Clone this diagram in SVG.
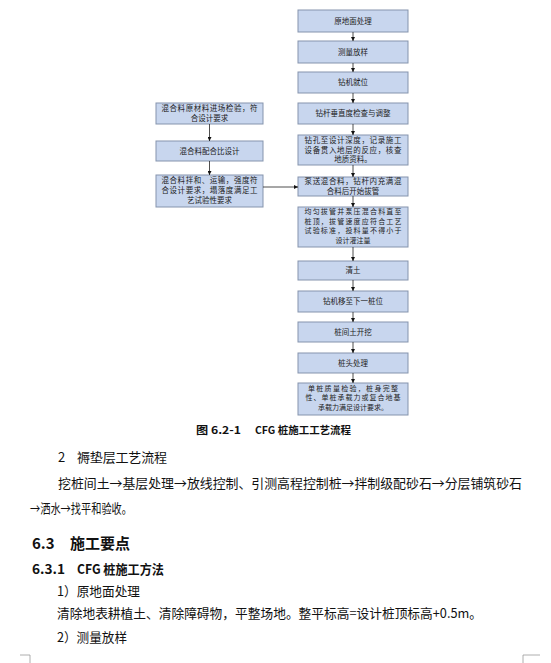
<svg xmlns="http://www.w3.org/2000/svg" width="551" height="663" viewBox="0 0 551 663">
<defs>
<marker id="ah" viewBox="0 0 10 10" refX="10" refY="5" markerWidth="4" markerHeight="4" orient="auto" markerUnits="userSpaceOnUse"><path d="M0,0 L10,5 L0,10 z" fill="#111"/></marker>
<style>
.box{fill:#c8d6ee;stroke:#8594ad;stroke-width:1}
.bt{font-family:"Noto Sans CJK SC","Noto Sans",sans-serif;font-size:7.5px;fill:#222;text-anchor:middle}
.sm{font-size:7px}
.conn{stroke:#222;stroke-width:0.8;fill:none;marker-end:url(#ah)}
.body{font-family:"Noto Sans CJK SC","Noto Sans",sans-serif;font-size:13px;fill:#111}
.bold{font-family:"Noto Sans CJK SC","Noto Sans",sans-serif;font-weight:bold;fill:#111}
</style>
</defs>
<rect width="551" height="663" fill="#fff"/>
<g id="n1"><rect class="box" x="298" y="10" width="110" height="22"/><text class="bt" x="353" y="23.7">原地面处理</text></g>
<g id="n2"><rect class="box" x="298" y="41" width="110" height="22"/><text class="bt" x="353" y="54.7">测量放样</text></g>
<g id="n3"><rect class="box" x="298" y="72" width="110" height="21"/><text class="bt" x="353" y="85.2">钻机就位</text></g>
<g id="n4"><rect class="box" x="298" y="103" width="110" height="21"/><text class="bt" x="353" y="116.2">钻杆垂直度检查与调整</text></g>
<g id="n5"><rect class="box" x="298" y="135" width="110" height="30"/><text class="bt" x="353" y="142.7" textLength="97">钻孔至设计深度，记录施工</text><text class="bt" x="353" y="152.7" textLength="97">设备贯入地层的反应，核查</text><text class="bt" x="353" y="162.3">地质资料。</text></g>
<g id="n6"><rect class="box" x="298" y="177" width="110" height="19"/><text class="bt" x="353" y="184.4" textLength="97">泵送混合料，钻杆内充满混</text><text class="bt" x="353" y="194.2">合料后开始拔管</text></g>
<g id="n7"><rect class="box" x="298" y="207" width="110" height="40"/><text class="bt sm" x="353" y="214.3" textLength="97">均匀拔管并泵压混合料直至</text><text class="bt sm" x="353" y="223.8" textLength="97">桩顶，拔管速度应符合工艺</text><text class="bt sm" x="353" y="233.3" textLength="97">试验标准，投料量不得小于</text><text class="bt sm" x="353" y="242.8">设计灌注量</text></g>
<g id="n8"><rect class="box" x="298" y="261" width="110" height="19"/><text class="bt" x="353" y="273.2">清土</text></g>
<g id="n9"><rect class="box" x="298" y="291" width="110" height="21"/><text class="bt" x="353" y="304.2">钻机移至下一桩位</text></g>
<g id="n10"><rect class="box" x="298" y="322" width="110" height="20"/><text class="bt" x="353" y="334.7">桩间土开挖</text></g>
<g id="n11"><rect class="box" x="298" y="353" width="110" height="20"/><text class="bt" x="353" y="365.7">桩头处理</text></g>
<g id="n12"><rect class="box" x="298" y="383" width="110" height="32"/><text class="bt sm" x="353" y="390.5" textLength="90">单桩质量检验，桩身完整</text><text class="bt sm" x="353" y="400.2" textLength="95">性、单桩承载力或复合地基</text><text class="bt sm" x="353" y="409.9">承载力满足设计要求。</text></g>
<g id="m1"><rect class="box" x="156" y="103" width="107" height="21"/><text class="bt" x="209.5" y="110.7" textLength="96">混合料原材料进场检验，符</text><text class="bt" x="209.5" y="120.7">合设计要求</text></g>
<g id="m2"><rect class="box" x="156" y="141" width="107" height="20"/><text class="bt" x="209.5" y="153.7">混合料配合比设计</text></g>
<g id="m3"><rect class="box" x="156" y="175" width="107" height="32"/><text class="bt" x="209.5" y="183.4" textLength="96">混合料拌和、运输，强度符</text><text class="bt" x="209.5" y="193.4" textLength="96">合设计要求，塌落度满足工</text><text class="bt" x="209.5" y="203.4">艺试验性要求</text></g>
<g id="connectors">
<line class="conn" x1="353" y1="32" x2="353" y2="41"/>
<line class="conn" x1="353" y1="63" x2="353" y2="72"/>
<line class="conn" x1="353" y1="93" x2="353" y2="103"/>
<line class="conn" x1="353" y1="124" x2="353" y2="135"/>
<line class="conn" x1="353" y1="165" x2="353" y2="177"/>
<line class="conn" x1="353" y1="196" x2="353" y2="207"/>
<line class="conn" x1="353" y1="247" x2="353" y2="261"/>
<line class="conn" x1="353" y1="280" x2="353" y2="291"/>
<line class="conn" x1="353" y1="312" x2="353" y2="322"/>
<line class="conn" x1="353" y1="342" x2="353" y2="353"/>
<line class="conn" x1="353" y1="373" x2="353" y2="383"/>
<line class="conn" x1="209.5" y1="124" x2="209.5" y2="141"/>
<line class="conn" x1="209.5" y1="161" x2="209.5" y2="175"/>
<line class="conn" x1="263" y1="187" x2="298" y2="187"/>
</g>
<text class="bold" x="196" y="434" font-size="10.5" textLength="45" lengthAdjust="spacingAndGlyphs">图 6.2-1</text>
<text class="bold" x="255" y="434" font-size="10.5" textLength="96" lengthAdjust="spacingAndGlyphs">CFG 桩施工工艺流程</text>
<text class="body" x="58" y="462">2</text>
<text class="body" x="77" y="462" textLength="90">褥垫层工艺流程</text>
<text class="body" x="58" y="487.5" textLength="464" lengthAdjust="spacingAndGlyphs">挖桩间土→基层处理→放线控制、引测高程控制桩→拌制级配砂石→分层铺筑砂石</text>
<text class="body" x="30" y="512.5" textLength="102" lengthAdjust="spacingAndGlyphs">→洒水→找平和验收。</text>
<text class="bold" x="32" y="548.5" font-size="15">6.3</text>
<text class="bold" x="70" y="548.5" font-size="15" textLength="60" lengthAdjust="spacingAndGlyphs">施工要点</text>
<text class="bold" x="32" y="573.5" font-size="13" textLength="33" lengthAdjust="spacingAndGlyphs">6.3.1</text>
<text class="bold" x="77" y="573.5" font-size="13" textLength="87" lengthAdjust="spacingAndGlyphs">CFG 桩施工方法</text>
<text class="body" x="57" y="595.5" textLength="83" lengthAdjust="spacingAndGlyphs">1）原地面处理</text>
<text class="body" x="57" y="617.5" textLength="425" lengthAdjust="spacingAndGlyphs">清除地表耕植土、清除障碍物，平整场地。整平标高=设计桩顶标高+0.5m。</text>
<text class="body" x="57" y="641.5" textLength="70" lengthAdjust="spacingAndGlyphs">2）测量放样</text>
<path d="M20,655 H30 V663 M540,655 H523 V663" stroke="#999" stroke-width="0.8" fill="none"/>
</svg>
